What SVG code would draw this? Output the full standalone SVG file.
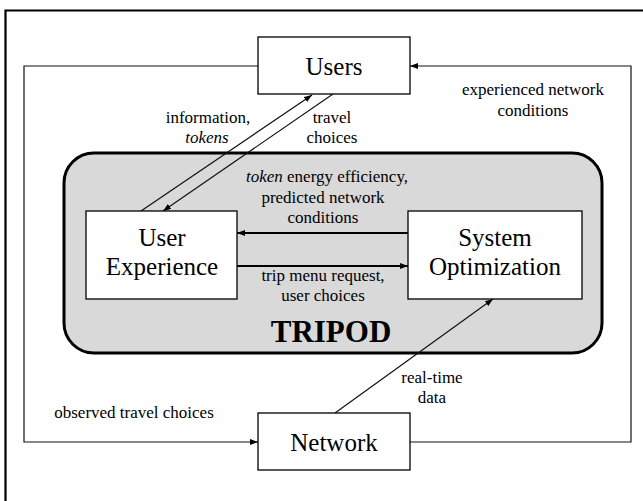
<svg xmlns="http://www.w3.org/2000/svg" width="643" height="501" viewBox="0 0 643 501">
<defs>
<marker id="ah" markerUnits="userSpaceOnUse" markerWidth="9" markerHeight="7" refX="8" refY="3" orient="auto"><path d="M0,0 L8,3 L0,6 z" fill="#000"/></marker>
</defs>
<style>
text{font-family:'Liberation Serif','DejaVu Serif',serif;fill:#000}
.big{font-size:25px;text-anchor:middle}
.lbl{font-size:17px;text-anchor:middle}
.box{fill:#fff;stroke:#000;stroke-width:1.3}
.c{fill:none;stroke:#111;stroke-width:1.2}
.h{fill:none;stroke:#000;stroke-width:2}
</style>
<rect width="643" height="501" fill="#fff"/>
<path d="M5.5,501 V10.5 H643" fill="none" stroke="#000" stroke-width="2.2"/>
<g id="tripod">
<rect x="64" y="153" width="538" height="200" rx="30" ry="30" fill="#d9d9d9" stroke="#000" stroke-width="3"/>
<text x="331" y="342" font-size="31" font-weight="bold" text-anchor="middle">TRIPOD</text>
</g>
<g id="connectors">
<path class="c" d="M258,66 H24 V442 H258" marker-end="url(#ah)"/>
<path class="c" d="M410,442 H631 V66 H410" marker-end="url(#ah)"/>
<path class="c" d="M141,211 L312,95" marker-end="url(#ah)"/>
<path class="c" d="M333,94 L163,211" marker-end="url(#ah)"/>
<path class="h" d="M408,233 H237" marker-end="url(#ah)"/>
<path class="h" d="M237,266 H408" marker-end="url(#ah)"/>
<path class="c" d="M335,413 L493,299" marker-end="url(#ah)"/>
<text class="lbl" x="208" y="123">information,</text>
<text class="lbl" x="207" y="143" font-style="italic">tokens</text>
<text class="lbl" x="332" y="123">travel</text>
<text class="lbl" x="332" y="143">choices</text>
<text class="lbl" x="533" y="95">experienced network</text>
<text class="lbl" x="533" y="116">conditions</text>
<text class="lbl" x="327" y="182"><tspan font-style="italic">token</tspan> energy efficiency,</text>
<text class="lbl" x="323" y="203">predicted network</text>
<text class="lbl" x="323" y="223">conditions</text>
<text class="lbl" x="323" y="281">trip menu request,</text>
<text class="lbl" x="323" y="301">user choices</text>
<text class="lbl" x="432" y="383">real-time</text>
<text class="lbl" x="432" y="403">data</text>
<text class="lbl" x="134" y="418">observed travel choices</text>
</g>
<g id="users">
<rect class="box" x="258" y="37" width="152" height="57"/>
<text class="big" x="334" y="75">Users</text>
</g>
<g id="user-experience">
<rect class="box" x="86" y="211" width="151" height="88"/>
<text class="big" x="162" y="246">User</text>
<text class="big" x="162" y="275">Experience</text>
</g>
<g id="system-optimization">
<rect class="box" x="408" y="211" width="174" height="88"/>
<text class="big" x="495" y="246">System</text>
<text class="big" x="495" y="275">Optimization</text>
</g>
<g id="network">
<rect class="box" x="258" y="413" width="152" height="57"/>
<text class="big" x="334" y="451">Network</text>
</g>
</svg>
